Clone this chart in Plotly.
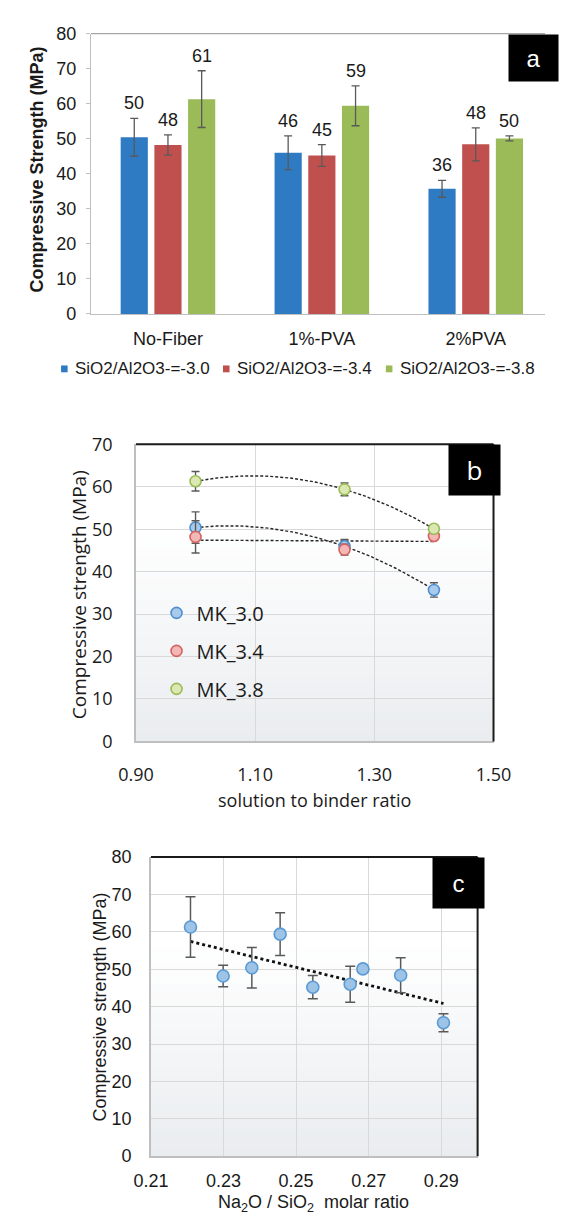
import numpy as np
import plotly.graph_objects as go

W, H = 563, 1224

# ---------------- data ----------------
fibre = ["No-Fiber", "1%-PVA", "2%PVA"]
series_names = ["SiO2/Al2O3-=-3.0", "SiO2/Al2O3-=-3.4", "SiO2/Al2O3-=-3.8"]
mk_names = ["MK_3.0", "MK_3.4", "MK_3.8"]

# compressive strength (MPa) for each SiO2/Al2O3 ratio, per fibre content
strength_30 = [50.4, 46.0, 35.7]
strength_34 = [48.2, 45.2, 48.4]
strength_38 = [61.3, 59.4, 50.1]
# error bars used in the bar chart and in the molar-ratio plot
err_30 = [5.4, 4.8, 2.4]
err_34 = [2.9, 3.1, 4.7]
err_38 = [8.1, 5.7, 0.7]

# solution to binder ratio and the error bars of that plot
sb_ratio = [1.00, 1.25, 1.40]
sb_err_30 = [3.7, 1.6, 1.7]
sb_err_34 = [3.8, 1.3, 0.8]
sb_err_38 = [2.3, 1.5, 0.8]

# Na2O / SiO2 molar ratio of each mix
na_30 = [0.2378, 0.2649, 0.2906]
na_34 = [0.2299, 0.2546, 0.2788]
na_38 = [0.2209, 0.2456, 0.2684]

strengths = [strength_30, strength_34, strength_38]
errs = [err_30, err_34, err_38]
sb_errs = [sb_err_30, sb_err_34, sb_err_38]
na_ratios = [na_30, na_34, na_38]
fit_degree = [2, 1, 2]

# ---------------- styling ----------------
bar_colors = ["#2E7BC4", "#C0504D", "#9BBB59"]
pt_fill = ["#A8CBEB", "#F3B7B5", "#DCE8B2"]
pt_line = ["#4F8FD1", "#D46361", "#9BBB59"]
ARIAL = "Liberation Sans, Arial, sans-serif"
SANS = "Open Sans, Noto Sans, sans-serif"
TXT = "#1A1A1A"
GRID = "#D9D9D9"
AXIS = "#BFBFBF"
ERR = "#595959"


def px_x(px):
    return px / W


def px_y(py):
    return 1 - py / H


dom_a = dict(x=[px_x(78), 1.0], y=[px_y(307), px_y(21)])
dom_b = dict(x=[px_x(126), px_x(508)], y=[px_y(743), px_y(440)])
dom_c = dict(x=[px_x(142), px_x(491)], y=[px_y(1166), px_y(861)])

BARGAP, BARGROUPGAP = 0.343, 0.194

fig = go.Figure()

# ---------------- (a) grouped bars ----------------
for k in range(3):
    fig.add_trace(go.Bar(
        x=fibre, y=strengths[k], name=series_names[k],
        marker=dict(color=bar_colors[k], line=dict(width=0)),
        error_y=dict(type="data", array=errs[k], color=ERR,
                     thickness=1.3, width=4),
        showlegend=False, xaxis="x", yaxis="y",
    ))

annotations = []
shapes = []
slot = (1 - BARGAP) / 3
for k in range(3):
    for i in range(3):
        annotations.append(dict(
            x=i + (k - 1) * slot, y=strengths[k][i] + errs[k][i],
            xref="x", yref="y", text=f"{strengths[k][i]:.0f}",
            showarrow=False, yanchor="bottom", yshift=3,
            font=dict(family=ARIAL, size=18, color=TXT)))

# key for the bar series, laid out in one row under the chart
key_text_x = [59, 232, 406]
key_y = 363
for k in range(3):
    x0 = key_text_x[k] - 13
    shapes.append(dict(type="rect", xref="paper", yref="paper",
                       x0=px_x(x0), x1=px_x(x0 + 7),
                       y0=px_y(key_y + 3.5), y1=px_y(key_y - 3.5),
                       fillcolor=bar_colors[k], line=dict(width=0)))
    annotations.append(dict(
        x=px_x(key_text_x[k]), y=px_y(key_y), xref="paper", yref="paper",
        xanchor="left", yanchor="middle", text=series_names[k],
        showarrow=False, font=dict(family=ARIAL, size=17, color=TXT)))

# ---------------- (b) strength vs solution/binder ----------------
x_fit = np.linspace(min(sb_ratio), max(sb_ratio), 80)
for k in range(3):
    coef = np.polyfit(sb_ratio, strengths[k], fit_degree[k])
    fig.add_trace(go.Scatter(
        x=x_fit, y=np.polyval(coef, x_fit), mode="lines",
        line=dict(color="#262626", width=1.4, dash="3px,2px"),
        showlegend=False, hoverinfo="skip", xaxis="x2", yaxis="y2"))
for k in range(3):
    fig.add_trace(go.Scatter(
        x=sb_ratio, y=strengths[k], mode="markers", name=mk_names[k],
        marker=dict(size=11, color=pt_fill[k],
                    line=dict(color=pt_line[k], width=1.6)),
        error_y=dict(type="data", array=sb_errs[k], color=ERR,
                     thickness=1.4, width=4),
        legend="legend2", legendgroup=mk_names[k],
        xaxis="x2", yaxis="y2"))

# ---------------- (c) strength vs Na2O/SiO2 ----------------
na_all = np.concatenate(na_ratios)
st_all = np.concatenate(strengths)
er_all = np.concatenate(errs)
order = np.argsort(na_all)
na_all, st_all, er_all = na_all[order], st_all[order], er_all[order]
lin = np.polyfit(na_all, st_all, 1)
x_lin = np.array([na_all.min(), na_all.max()])
fig.add_trace(go.Scatter(
    x=x_lin, y=np.polyval(lin, x_lin), mode="lines",
    line=dict(color="#111111", width=2.8, dash="dot"),
    showlegend=False, hoverinfo="skip", xaxis="x3", yaxis="y3"))
fig.add_trace(go.Scatter(
    x=na_all, y=st_all, mode="markers", showlegend=False,
    marker=dict(size=12, color="#9DC3E6",
                line=dict(color="#5B9BD5", width=1.6)),
    error_y=dict(type="data", array=er_all, color=ERR,
                 thickness=1.5, width=5),
    xaxis="x3", yaxis="y3"))

# ---------------- shapes: plot frames & shaded backgrounds ----------------
def shade(xr, yr, top_frac=0.7, bottom="#EAEDF0", n=28):
    r1, g1, b1 = [int(bottom[i:i + 2], 16) for i in (1, 3, 5)]
    for j in range(n):
        y0 = top_frac * j / n
        y1 = top_frac * (j + 1) / n
        t = 1 - (j + 0.5) / n
        col = "rgb(%d,%d,%d)" % (255 + (r1 - 255) * t, 255 + (g1 - 255) * t,
                                  255 + (b1 - 255) * t)
        shapes.append(dict(type="rect", xref=xr + " domain", yref=yr + " domain",
                           x0=0, x1=1, y0=y0, y1=y1 + 0.002, fillcolor=col,
                           line=dict(width=0), layer="below"))


def frame(xr, yr, color, width):
    shapes.append(dict(type="line", xref=xr + " domain", yref=yr + " domain",
                       x0=0, x1=1, y0=1, y1=1, line=dict(color=color, width=width)))
    shapes.append(dict(type="line", xref=xr + " domain", yref=yr + " domain",
                       x0=1, x1=1, y0=0, y1=1, line=dict(color=color, width=width)))


shade("x2", "y2")
shade("x3", "y3")
shapes.append(dict(type="line", xref="x domain", yref="y domain",
                   x0=0, x1=1, y0=1, y1=1, line=dict(color="#A6A6A6", width=1.3)))
frame("x2", "y2", "#1A1A1A", 2)
frame("x3", "y3", "#1A1A1A", 2)

# ---------------- panel tags ----------------
def tag(text, x_left, y_top, w, h, family, size):
    annotations.append(dict(
        x=px_x(x_left), y=px_y(y_top), xref="paper", yref="paper",
        xanchor="left", yanchor="top", text=text, showarrow=False,
        width=w, height=h, bgcolor="black", align="center", valign="middle",
        font=dict(family=family, size=size, color="white")))


tag("a", 524, 21, 47, 44, ARIAL, 24)
tag("b", 459, 440, 49, 48, SANS, 26)
tag("c", 442, 861, 49, 48, ARIAL, 24)

# ---------------- axis titles ----------------
def title(text, x, y, angle, family, size, bold=False):
    annotations.append(dict(
        x=px_x(x), y=px_y(y), xref="paper", yref="paper",
        xanchor="center", yanchor="middle", text=f"<b>{text}</b>" if bold else text,
        textangle=angle, showarrow=False,
        font=dict(family=family, size=size, color=TXT)))


title("Compressive Strength (MPa)", 20, 160, -90, ARIAL, 18, bold=True)
title("Compressive strength (MPa)", 66, 593, -90, SANS, 19)
title("solution to binder ratio", 317, 803, 0, SANS, 18)
title("Compressive strength (MPa)", 88, 1014, -90, ARIAL, 18)
title("Na<sub>2</sub>O / SiO<sub>2</sub>\u00a0 molar ratio", 316, 1214, 0, ARIAL, 18)

axis_font_a = dict(family=ARIAL, size=18, color=TXT)
axis_font_b = dict(family=SANS, size=18, color=TXT)

fig.update_layout(
    width=W, height=H, margin=dict(l=0, r=0, t=0, b=0),
    paper_bgcolor="white", plot_bgcolor="rgba(0,0,0,0)",
    barmode="group", bargap=BARGAP, bargroupgap=BARGROUPGAP,
    showlegend=True,
    xaxis=dict(domain=dom_a["x"], type="category", range=[-0.5, 2.45],
               showline=True, linecolor=AXIS, linewidth=1.3, ticks="",
               showgrid=False, tickfont=axis_font_a, ticklabelstandoff=8,
               fixedrange=True),
    yaxis=dict(domain=dom_a["y"], range=[0, 80], dtick=10, showline=True,
               linecolor=AXIS, linewidth=1.3, ticks="outside", ticklen=4,
               tickcolor=AXIS, showgrid=False, zeroline=False,
               tickfont=axis_font_a, ticklabelstandoff=6),
    xaxis2=dict(domain=dom_b["x"], anchor="y2", range=[0.9, 1.5], dtick=0.2,
                tick0=0.9, tickformat=".2f", showline=True, linecolor=AXIS,
                linewidth=1.5, showgrid=True, gridcolor=GRID, gridwidth=1.2,
                zeroline=False, ticks="", tickfont=axis_font_b,
                ticklabelstandoff=16),
    yaxis2=dict(domain=dom_b["y"], anchor="x2", range=[0, 70], dtick=10,
                showline=True, linecolor=AXIS, linewidth=1.5, showgrid=True,
                gridcolor=GRID, gridwidth=1.2, zeroline=False, ticks="",
                tickfont=axis_font_b, ticklabelstandoff=18),
    xaxis3=dict(domain=dom_c["x"], anchor="y3", range=[0.21, 0.30], dtick=0.02,
                tick0=0.21, tickformat=".2f", showline=True, linecolor=AXIS,
                linewidth=1.5, showgrid=True, gridcolor=GRID, gridwidth=1.2,
                zeroline=False, ticks="", tickfont=axis_font_a,
                ticklabelstandoff=8),
    yaxis3=dict(domain=dom_c["y"], anchor="x3", range=[0, 80], dtick=10,
                showline=True, linecolor=AXIS, linewidth=1.5, showgrid=True,
                gridcolor=GRID, gridwidth=1.2, zeroline=False, ticks="",
                tickfont=axis_font_a, ticklabelstandoff=14),
    legend2=dict(x=px_x(148), y=px_y(592), xanchor="left", yanchor="top",
                 font=dict(family=SANS, size=20, color=TXT),
                 tracegroupgap=9, bgcolor="rgba(0,0,0,0)"),
    shapes=shapes, annotations=annotations,
)

fig.write_html("out.html")
